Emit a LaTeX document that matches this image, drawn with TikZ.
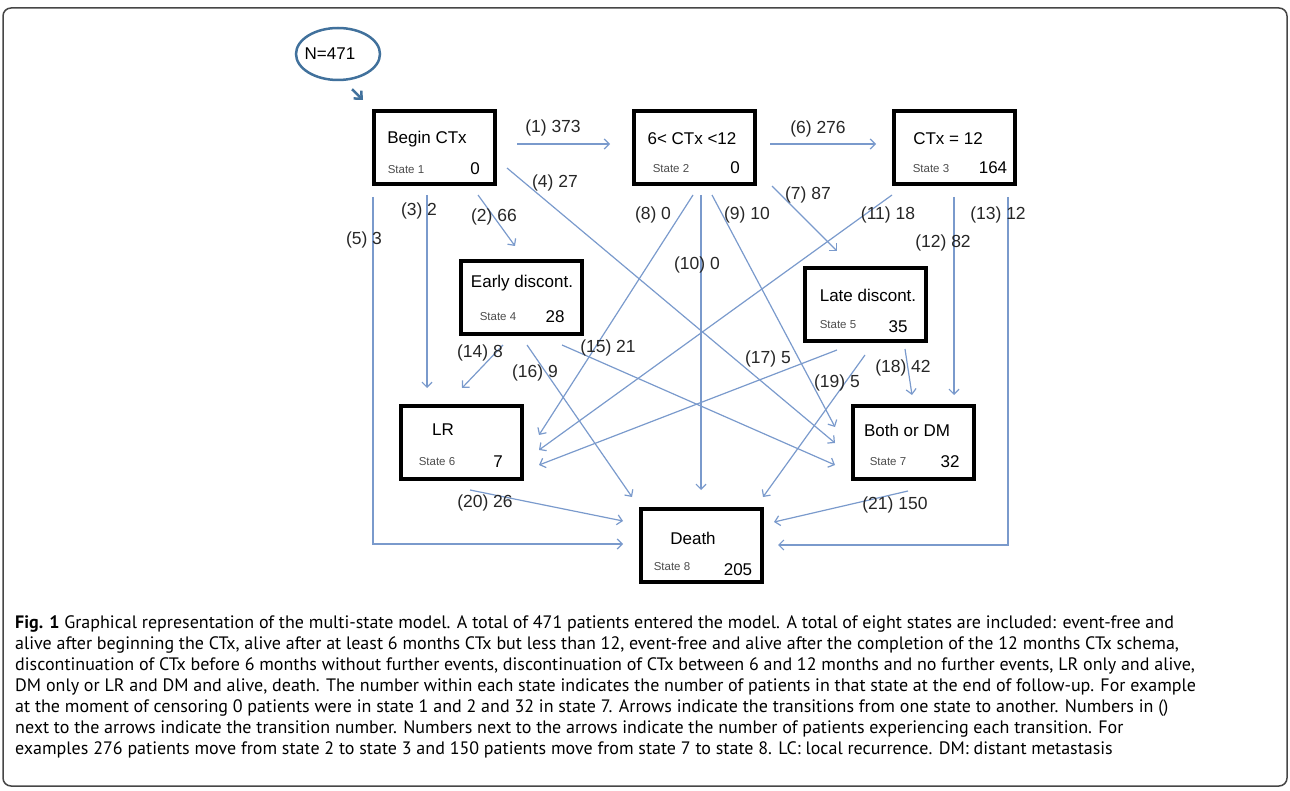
\documentclass[tikz,border=0pt]{standalone}
\usepackage{fontspec}
\setmainfont{Liberation Sans}
\newfontfamily\capfont{PT Sans}
\usetikzlibrary{arrows.meta, shapes.geometric, calc}
\definecolor{trblue}{RGB}{122,154,204}
\definecolor{popblue}{RGB}{65,113,156}
\definecolor{framegray}{RGB}{70,70,70}
\tikzset{state/.style = {draw, line width=4pt, minimum width=121pt, minimum height=73pt, inner sep=0pt}}
\tikzset{trans/.style = {draw=trblue, line width=1.2pt, -{Straight Barb[length=5pt,width=10pt]}}}
\tikzset{ttl/.style = {font=\fontsize{17}{20}\selectfont, inner sep=0pt}}
\tikzset{stl/.style = {font=\fontsize{11.5}{13}\selectfont, text=black!70, inner sep=0pt}}
\tikzset{lbl/.style = {font=\fontsize{17.5}{20}\selectfont, text=black!85, inner sep=0pt}}
\tikzset{captxt/.style = {font=\capfont\fontsize{18}{21}\selectfont, inner sep=0pt, anchor=base west}}

\begin{document}
\begin{tikzpicture}[x=1pt, y=-1pt]
		\useasboundingbox (0,0) rectangle (1290,791);
		% Frame
		\draw[framegray, line width=1.5pt, rounded corners=8pt] (3,8) rectangle (1287,786);
		
		% Entry
		\node[ellipse, draw=popblue, line width=2.5pt, minimum width=84pt, minimum height=52pt] (pop) at (338,54) {};
		\node[ttl] (ntot) at (330,54) {N=471};
		
		% States
		\node[state] (s1) at (434.5,147.5) {};
		\node[state] (s2) at (694.5,148) {};
		\node[state] (s3) at (954.5,148) {};
		\node[state] (s4) at (521.5,297.5) {};
		\node[state] (s5) at (865,305) {};
		\node[state] (s6) at (461,442) {};
		\node[state] (s7) at (913,442) {};
		\node[state] (s8) at (701.5,545.5) {};
		
		%% Titles
		\node[ttl] (t1) at (427,139) {Begin CTx};
		\node[ttl] (t2) at (692,139) {6< CTx <12};
		\node[ttl] (t3) at (948,139) {CTx = 12};
		\node[ttl] (t4) at (522,283) {Early discont.};
		\node[ttl] (t5) at (868,295) {Late discont.};
		\node[ttl] (t6) at (443,430) {LR};
		\node[ttl] (t7) at (907,430) {Both or DM};
		\node[ttl] (t8) at (693,538) {Death};
		
		%% State numbers and counts
		\foreach \n/\sx/\sy/\c/\cx/\cy in {1/406/170/0/475/169, 2/671/169/0/735/168, 3/931/169/164/993/168, 4/498/317/28/555/317, 5/838/325/35/898/327, 6/437/462/7/498/462, 7/888/462/32/950/462, 8/672/567/205/738/570}
		{
			\node[stl] (st\n) at (\sx,\sy) {State \n};
			\node[ttl] (c\n) at (\cx,\cy) {\c};
		}
		
		% Transitions
		\draw[popblue, line width=2.5pt, -{Straight Barb[length=6pt,width=11pt]}] ($(pop.south)+(14,8)$) -- ($(s1.north west)+(-9,-9)$);
		\draw[trans] ($(s1.east)+(20,-3.5)$) -- ($(s2.west)+(-22,-4)$);
		\draw[trans] ($(s1.south)+(43.5,9)$) -- ($(s4.north)+(-6.5,-13)$);
		\draw[trans] ($(s1.south)+(-7.5,9)$) -- ($(s6.north)+(-34,-15.5)$);
		\draw[trans] ($(s1.east)+(10,20.5)$) -- ($(s7.west)+(-15.5,1)$);
		\draw[trans] ($(s1.south)+(-61.5,11)$) |- ($(s8.west)+(-16,-1.5)$);
		\draw[trans] ($(s2.east)+(13,-4)$) -- ($(s3.west)+(-16,-4)$);
		\draw[trans] ($(s2.east)+(15,38)$) -- ($(s5.north)+(-28,-15.5)$);
		\draw[trans] ($(s2.south)+(-1.5,8.5)$) -- ($(s6.east)+(15.5,-7)$);
		\draw[trans] ($(s2.south)+(17.5,8.5)$) -- ($(s7.west)+(-15.5,-15)$);
		\draw[trans] ($(s2.south)+(6.5,8.5)$) -- ($(s8.north)+(-0.5,-17)$);
		\draw[trans] ($(s3.south)+(-62.5,8.5)$) -- ($(s6.east)+(15.5,8)$);
		\draw[trans] ($(s3.south)+(-0.5,10.5)$) -- ($(s7.north)+(41,-8.5)$);
		\draw[trans] ($(s3.south)+(53.5,10.5)$) |- ($(s8.east)+(14,-0.5)$);
		\draw[trans] ($(s4.south)+(-18.5,9)$) -- ($(s6.north)+(1,-15.5)$);
		\draw[trans] ($(s4.south)+(40.5,9)$) -- ($(s7.west)+(-15.5,23)$);
		\draw[trans] ($(s4.south)+(5.5,9)$) -- ($(s8.north)+(-69.5,-10)$);
		\draw[trans] ($(s5.south)+(-28,6.5)$) -- ($(s6.east)+(15.5,23)$);
		\draw[trans] ($(s5.south)+(40,5.5)$) -- ($(s7.north)+(-1,-8.5)$);
		\draw[trans] ($(s5.south)+(0,11.5)$) -- ($(s8.north)+(61.5,-10)$);
		\draw[trans] ($(s6.south)+(9,9.5)$) -- ($(s8.west)+(-16,-24.5)$);
		\draw[trans] ($(s7.south)+(-5,10.5)$) -- ($(s8.east)+(10,-23.5)$);
		
		%% Labels
		\node[lbl] (l1) at (553,128) {(1) 373};
		\node[lbl] (l2) at (494,217) {(2) 66};
		\node[lbl] (l3) at (419,211) {(3) 2};
		\node[lbl] (l4) at (555,183) {(4) 27};
		\node[lbl] (l5) at (364,240) {(5) 3};
		\node[lbl] (l6) at (818,129) {(6) 276};
		\node[lbl] (l7) at (808,195) {(7) 87};
		\node[lbl] (l8) at (653,215) {(8) 0};
		\node[lbl] (l9) at (747,215) {(9) 10};
		\node[lbl] (l10) at (697,265) {(10) 0};
		\node[lbl] (l11) at (888,215) {(11) 18};
		\node[lbl] (l12) at (943,243) {(12) 82};
		\node[lbl] (l13) at (998,215) {(13) 12};
		\node[lbl] (l14) at (480,353) {(14) 8};
		\node[lbl] (l15) at (608,348) {(15) 21};
		\node[lbl] (l16) at (535,373) {(16) 9};
		\node[lbl] (l17) at (768,359) {(17) 5};
		\node[lbl] (l18) at (903,368) {(18) 42};
		\node[lbl] (l19) at (837,383) {(19) 5};
		\node[lbl] (l20) at (485,503) {(20) 26};
		\node[lbl] (l21) at (895,505) {(21) 150};
		
		% Caption
		\foreach \t [count=\i] in {
			{{\bfseries Fig. 1} Graphical representation of the multi-state model. A total of 471 patients entered the model. A total of eight states are included: event-free and},
			{alive after beginning the CTx, alive after at least 6 months CTx but less than 12, event-free and alive after the completion of the 12 months CTx schema,},
			{discontinuation of CTx before 6 months without further events, discontinuation of CTx between 6 and 12 months and no further events, LR only and alive,},
			{DM only or LR and DM and alive, death. The number within each state indicates the number of patients in that state at the end of follow-up. For example},
			{at the moment of censoring 0 patients were in state 1 and 2 and 32 in state 7. Arrows indicate the transitions from one state to another. Numbers in ()},
			{next to the arrows indicate the transition number. Numbers next to the arrows indicate the number of patients experiencing each transition. For},
			{examples 276 patients move from state 2 to state 3 and 150 patients move from state 7 to state 8. LC: local recurrence. DM: distant metastasis}}
		{
			\node[captxt] (cap\i) at (15,607+21*\i) {\t};
		}
	\end{tikzpicture}
\end{document}
